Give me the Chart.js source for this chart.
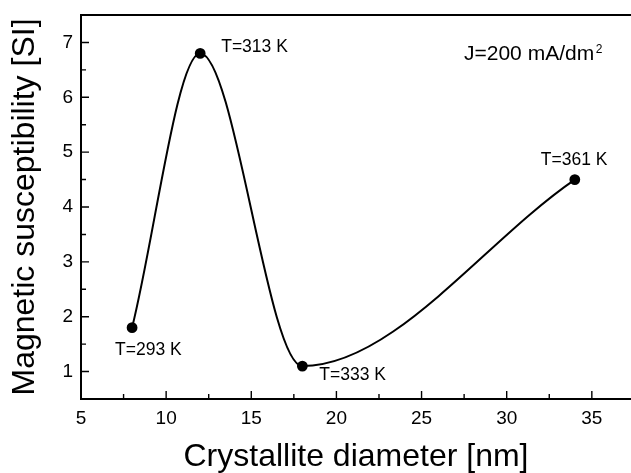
<!DOCTYPE html>
<html><head><meta charset="utf-8">
<script src="https://cdn.jsdelivr.net/npm/chart.js@4.4.0/dist/chart.umd.min.js"></script>
<style>html,body{margin:0;padding:0;background:#fff}#wrap{width:631px;height:473px;position:relative}</style>
</head><body><div id="wrap"><canvas id="c"></canvas></div>
<script>
const crystalliteDiameter = [8, 12, 18, 34];
const susceptibility = [1.8, 6.8, 1.1, 4.5];
const temperatureLabels = ['T=293 K', 'T=313 K', 'T=333 K', 'T=361 K'];
const xMajorTicks = [5, 10, 15, 20, 25, 30, 35];
const xMinorTicks = [7.5, 12.5, 17.5, 22.5, 27.5, 32.5];
const yMajorTicks = [1, 2, 3, 4, 5, 6, 7];
const yMinorTicks = [1.5, 2.5, 3.5, 4.5, 5.5, 6.5];
const currentDensityLabel = 'J=200 mA/dm';
const currentDensitySup = '2';

const FONT = "'Liberation Sans', Arial, Helvetica, sans-serif";
const labelOffsets = [[-17, 22], [21, -6], [17, 9], [-34, -19]];

const decorPlugin = {
  id: 'decor',
  afterDraw(chart) {
    const {ctx, chartArea: a, scales: {x, y}} = chart;
    ctx.save();
    ctx.strokeStyle = '#000';
    ctx.lineCap = 'butt';
    // spines
    ctx.lineWidth = 2;
    ctx.beginPath();
    ctx.moveTo(a.left, a.top); ctx.lineTo(a.right, a.top);
    ctx.moveTo(a.left, a.top - 1); ctx.lineTo(a.left, a.bottom + 1);
    ctx.moveTo(a.left - 1, a.bottom); ctx.lineTo(a.right, a.bottom);
    ctx.stroke();
    // inward ticks
    ctx.lineWidth = 1.4;
    ctx.beginPath();
    xMajorTicks.forEach(v => { const p = x.getPixelForValue(v); ctx.moveTo(p, a.bottom); ctx.lineTo(p, a.bottom - 8); });
    xMinorTicks.forEach(v => { const p = x.getPixelForValue(v); ctx.moveTo(p, a.bottom); ctx.lineTo(p, a.bottom - 5); });
    yMajorTicks.forEach(v => { const p = y.getPixelForValue(v); ctx.moveTo(a.left, p); ctx.lineTo(a.left + 8, p); });
    yMinorTicks.forEach(v => { const p = y.getPixelForValue(v); ctx.moveTo(a.left, p); ctx.lineTo(a.left + 5, p); });
    ctx.stroke();
    // point labels
    ctx.fillStyle = '#000';
    ctx.font = '17.5px ' + FONT;
    ctx.textBaseline = 'middle';
    ctx.textAlign = 'left';
    temperatureLabels.forEach((t, i) => {
      const px = x.getPixelForValue(crystalliteDiameter[i]);
      const py = y.getPixelForValue(susceptibility[i]);
      ctx.fillText(t, px + labelOffsets[i][0], py + labelOffsets[i][1]);
    });
    // current density label
    ctx.font = '21px ' + FONT;
    const jx = a.right - 167, jy = a.top + 39;
    ctx.fillText(currentDensityLabel, jx, jy);
    const w = ctx.measureText(currentDensityLabel).width;
    ctx.font = '12px ' + FONT;
    ctx.fillText(currentDensitySup, jx + w + 1.5, jy - 4.5);
    ctx.restore();
  }
};

new Chart(document.getElementById('c'), {
  type: 'scatter',
  data: {
    datasets: [{
      data: crystalliteDiameter.map((v, i) => ({x: v, y: susceptibility[i]})),
      showLine: true,
      borderColor: '#000',
      backgroundColor: '#000',
      borderWidth: 2,
      pointRadius: 4.4,
      pointHoverRadius: 4.4,
      cubicInterpolationMode: 'monotone',
      clip: false
    }]
  },
  options: {
    responsive: true,
    maintainAspectRatio: false,
    animation: false,
    events: [],
    layout: {autoPadding: false, padding: {top: 15, right: 0, left: 0, bottom: 0}},
    plugins: {legend: {display: false}, tooltip: {enabled: false}},
    scales: {
      x: {
        type: 'linear', min: 5, max: 37.3,
        afterBuildTicks: s => { s.ticks = xMajorTicks.map(v => ({value: v})); },
        afterFit: s => { s.height = 74; s.paddingLeft = 0; s.paddingRight = 0; },
        grid: {display: false, drawTicks: false},
        border: {display: false},
        ticks: {padding: 8, color: '#000', font: {family: FONT, size: 19}, maxRotation: 0, autoSkip: false},
        title: {display: true, text: 'Crystallite diameter [nm]', color: '#000',
          font: {family: FONT, size: 32, lineHeight: 1}, padding: {top: 0, bottom: 0}}
      },
      y: {
        type: 'linear', min: 0.5, max: 7.5,
        afterBuildTicks: s => { s.ticks = yMajorTicks.map(v => ({value: v})); },
        afterFit: s => { s.width = 81; s.paddingTop = 0; s.paddingBottom = 0; },
        grid: {display: false, drawTicks: false},
        border: {display: false},
        ticks: {padding: 8, color: '#000', font: {family: FONT, size: 19}},
        title: {display: true, text: 'Magnetic susceptibility [SI]', color: '#000',
          font: {family: FONT, size: 32, lineHeight: 1}, padding: {top: 9, bottom: 0}}
      }
    }
  },
  plugins: [decorPlugin]
});
</script></body></html>
